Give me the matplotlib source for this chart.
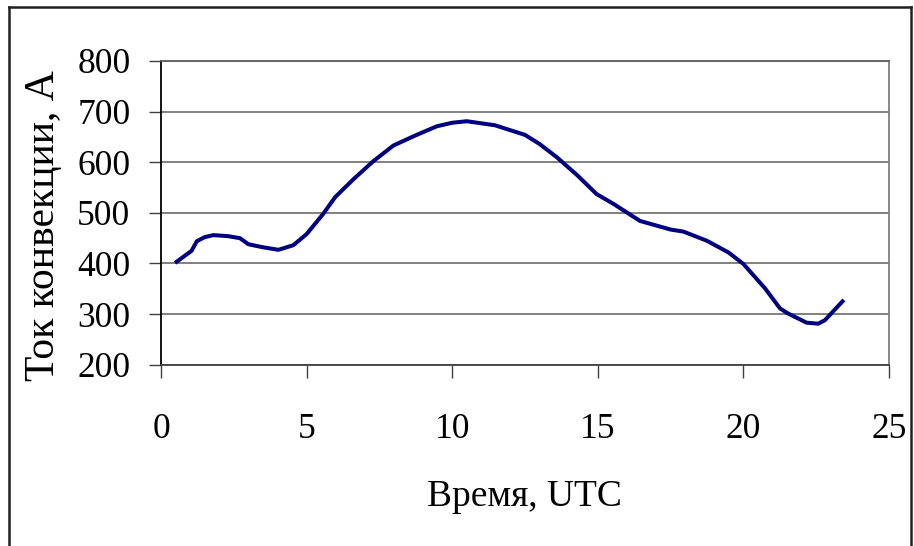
import matplotlib
matplotlib.use('Agg')
import matplotlib.pyplot as plt
from matplotlib.lines import Line2D

plt.rcParams['font.family'] = ['Liberation Serif', 'DejaVu Serif']

# Время (UTC, ч) и ток конвекции (А)
time_utc = [0.48, 1.05, 1.23, 1.5, 1.8, 2.3, 2.71, 3.0, 3.5, 4.03, 4.54, 5.0,
            5.57, 5.98, 6.6, 7.29, 7.98, 8.7, 9.47, 10.0, 10.5, 11.47, 12.5,
            13.0, 13.59, 14.3, 14.96, 15.53, 16.45, 17.5, 17.94, 18.74, 19.48,
            20.0, 20.74, 21.26, 21.54, 22.17, 22.57, 22.8, 23.45]
current = [401, 425, 444, 452, 456, 454, 450, 438, 432, 427, 436, 458,
           498, 531, 566, 602, 633, 652, 671, 678, 681, 673, 654,
           636, 610, 574, 537, 518, 484, 467, 463, 445, 422,
           399, 351, 311, 301, 283, 281, 288, 328]

x_ticks = [0, 5, 10, 15, 20, 25]
y_ticks = [200, 300, 400, 500, 600, 700, 800]

W, H = 914, 546
fig = plt.figure(figsize=(W / 100, H / 100), dpi=100)
ax = fig.add_axes([161 / W, 1 - 364.7 / H, 728 / W, (364.7 - 61) / H])

ax.plot(time_utc, current, color='#000080', linewidth=2.9, solid_capstyle='butt')

ax.set_xlim(0, 25)
ax.set_ylim(200, 800)
ax.set_xticks(x_ticks)
ax.set_yticks(y_ticks)
ax.yaxis.grid(True, color='#808080', linewidth=1.4)
ax.set_axisbelow(True)

ax.spines['left'].set_color('black')
ax.spines['left'].set_linewidth(1.3)
ax.spines['bottom'].set_color('#404040')
ax.spines['bottom'].set_linewidth(1.3)
ax.spines['right'].set_color('#808080')
ax.spines['right'].set_linewidth(1.3)
ax.spines['top'].set_color('#606060')
ax.spines['top'].set_linewidth(1.3)

ax.tick_params(axis='y', direction='out', length=9, width=1.0, color='#404040',
               labelsize=25.5, pad=13)
ax.tick_params(axis='x', direction='out', length=9, width=1.0, color='#404040',
               labelsize=25.5, pad=26)

ax.set_xlabel('Время, UTC', fontsize=27)
ax.set_ylabel('Ток конвекции, А', fontsize=30)
ax.xaxis.set_label_coords((524 - 161) / 728, -(497 - 364.7) / (364.7 - 61))
ax.yaxis.set_label_coords(-(161 - 44) / 728, (364.7 - 226) / (364.7 - 61))
ax.xaxis.label.set_va('center')
ax.yaxis.label.set_va('center')

# рамка вокруг диаграммы (без нижней стороны)
x0, x1 = 9 / W, 911 / W
yt = 1 - 6.5 / H
for xs, ys in [([x0, x0], [0, yt]), ([x0, x1], [yt, yt]), ([x1, x1], [yt, 0])]:
    fig.add_artist(Line2D(xs, ys, color='#202020', linewidth=1.8))

fig.savefig('out.png', dpi=100)
